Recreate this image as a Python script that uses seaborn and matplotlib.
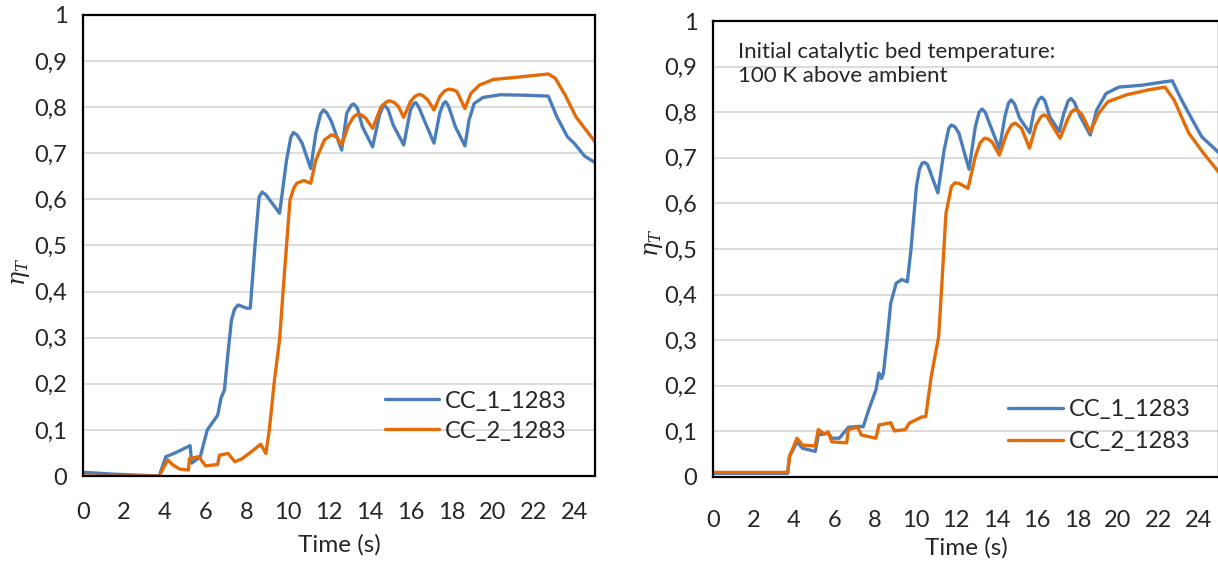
import numpy as np
import pandas as pd
import matplotlib
matplotlib.use("Agg")
import matplotlib.pyplot as plt
import seaborn as sns

# ---- data (time in s, eta_T) ----
left_cc1_t = [0, 1.5, 3.72, 4.05, 4.5, 5.23, 5.31, 5.73, 6.07, 6.58, 6.74, 6.91, 7.08, 7.25,
              7.4, 7.58, 8.0, 8.17, 8.4, 8.6, 8.75, 8.93, 9.6, 9.94, 10.15, 10.28, 10.45,
              10.7, 11.12, 11.37, 11.6, 11.74, 11.9, 12.13, 12.63, 12.88, 13.1, 13.22, 13.4,
              13.64, 14.14, 14.48, 14.65, 14.73, 14.9, 15.15, 15.66, 15.99, 16.15, 16.25,
              16.4, 16.67, 17.14, 17.42, 17.6, 17.71, 17.85, 18.18, 18.65, 18.85, 19.1,
              19.53, 20.37, 21.54, 22.72, 23.14, 23.65, 23.98, 24.49, 25.0]
left_cc1_y = [0.008, 0.004, 0.0, 0.042, 0.05, 0.066, 0.028, 0.042, 0.10, 0.132, 0.169, 0.187,
              0.266, 0.338, 0.362, 0.371, 0.364, 0.364, 0.50, 0.605, 0.616, 0.610, 0.570,
              0.685, 0.735, 0.745, 0.740, 0.722, 0.667, 0.743, 0.785, 0.794, 0.788, 0.769,
              0.707, 0.787, 0.804, 0.807, 0.798, 0.758, 0.714, 0.783, 0.802, 0.804, 0.795,
              0.761, 0.718, 0.794, 0.808, 0.810, 0.800, 0.771, 0.722, 0.787, 0.808, 0.812,
              0.802, 0.758, 0.716, 0.772, 0.808, 0.821, 0.827, 0.826, 0.824, 0.779, 0.736,
              0.722, 0.694, 0.680]

left_cc2_t = [0, 3.72, 4.14, 4.39, 4.73, 5.15, 5.2, 5.65, 5.99, 6.58, 6.66, 7.08, 7.42, 7.75,
              8.17, 8.68, 8.93, 9.1, 9.35, 9.6, 9.77, 10.11, 10.3, 10.44, 10.78, 11.12, 11.37,
              11.79, 12.13, 12.38, 12.63, 12.97, 13.2, 13.39, 13.6, 13.81, 14.14, 14.56,
              14.8, 14.98, 15.2, 15.41, 15.66, 15.99, 16.2, 16.41, 16.6, 16.83, 17.14, 17.42,
              17.65, 17.84, 18.05, 18.26, 18.65, 18.94, 19.36, 20.03, 21.21, 22.05, 22.72,
              23.06, 23.56, 24.07, 25.0]
left_cc2_y = [0.0, 0.0, 0.035, 0.024, 0.015, 0.013, 0.038, 0.042, 0.022, 0.025, 0.045, 0.049,
              0.031, 0.037, 0.051, 0.069, 0.049, 0.10, 0.208, 0.295, 0.40, 0.599, 0.625,
              0.635, 0.641, 0.635, 0.685, 0.729, 0.740, 0.736, 0.718, 0.761, 0.778, 0.785,
              0.783, 0.776, 0.754, 0.801, 0.811, 0.814, 0.810, 0.801, 0.778, 0.812, 0.823,
              0.828, 0.825, 0.816, 0.794, 0.823, 0.835, 0.839, 0.838, 0.834, 0.797, 0.830,
              0.848, 0.860, 0.865, 0.869, 0.872, 0.863, 0.825, 0.779, 0.725]

right_cc1_t = [0, 3.69, 3.78, 4.15, 4.42, 5.05, 5.2, 5.69, 5.87, 6.24, 6.69, 7.24, 7.42, 7.69,
               8.05, 8.2, 8.33, 8.42, 8.6, 8.78, 9.05, 9.33, 9.6, 9.78, 10.05, 10.2, 10.33,
               10.45, 10.6, 11.11, 11.42, 11.65, 11.78, 11.95, 12.15, 12.65, 12.96, 13.15,
               13.29, 13.45, 13.69, 14.15, 14.42, 14.6, 14.73, 14.9, 15.15, 15.65, 15.87,
               16.1, 16.24, 16.4, 16.64, 17.11, 17.33, 17.55, 17.69, 17.85, 18.15, 18.64,
               18.96, 19.42, 20.05, 21.15, 22.05, 22.69, 23.15, 23.6, 24.15, 25.0]
right_cc1_y = [0.008, 0.008, 0.045, 0.077, 0.063, 0.056, 0.092, 0.096, 0.085, 0.085, 0.109,
               0.111, 0.110, 0.147, 0.191, 0.228, 0.216, 0.228, 0.30, 0.381, 0.425, 0.433,
               0.428, 0.498, 0.637, 0.675, 0.688, 0.690, 0.685, 0.623, 0.717, 0.765, 0.772,
               0.768, 0.754, 0.675, 0.768, 0.800, 0.807, 0.800, 0.772, 0.719, 0.790, 0.820,
               0.827, 0.818, 0.787, 0.755, 0.805, 0.828, 0.833, 0.825, 0.790, 0.758, 0.797,
               0.825, 0.830, 0.822, 0.790, 0.750, 0.805, 0.841, 0.855, 0.859, 0.865, 0.869,
               0.827, 0.790, 0.746, 0.711]

right_cc2_t = [0, 3.69, 3.78, 4.15, 4.42, 5.05, 5.2, 5.51, 5.69, 5.87, 6.6, 6.69, 7.15, 7.33,
               8.05, 8.2, 8.78, 8.96, 9.51, 9.69, 10.33, 10.51, 10.78, 11.15, 11.29, 11.51,
               11.78, 11.95, 12.15, 12.6, 12.96, 13.2, 13.42, 13.6, 13.78, 14.15, 14.51, 14.75,
               14.93, 15.24, 15.64, 15.96, 16.2, 16.36, 16.5, 16.69, 17.15, 17.51, 17.7,
               17.87, 18.05, 18.24, 18.64, 19.05, 19.51, 20.42, 21.51, 22.33, 22.78, 23.51,
               24.24, 25.0]
right_cc2_y = [0.010, 0.010, 0.045, 0.085, 0.070, 0.068, 0.104, 0.094, 0.099, 0.077, 0.075,
               0.104, 0.109, 0.092, 0.085, 0.114, 0.119, 0.101, 0.104, 0.118, 0.132, 0.132,
               0.220, 0.308, 0.410, 0.578, 0.637, 0.645, 0.644, 0.633, 0.703, 0.733, 0.743,
               0.741, 0.735, 0.706, 0.753, 0.772, 0.776, 0.765, 0.721, 0.772, 0.790, 0.794,
               0.791, 0.776, 0.743, 0.783, 0.800, 0.806, 0.803, 0.794, 0.757, 0.797, 0.823,
               0.838, 0.849, 0.855, 0.827, 0.754, 0.710, 0.668]

series_names = ["CC_1_1283", "CC_2_1283"]
x_ticks = list(range(0, 25, 2))
y_ticks = [0, 0.1, 0.2, 0.3, 0.4, 0.5, 0.6, 0.7, 0.8, 0.9, 1.0]
y_tick_labels = ["0", "0,1", "0,2", "0,3", "0,4", "0,5", "0,6", "0,7", "0,8", "0,9", "1"]
note = "Initial catalytic bed temperature:\n100 K above ambient"

colors = {"CC_1_1283": "#4a7ebb", "CC_2_1283": "#e36c09"}


def make_frame(t1, y1, t2, y2):
    a = pd.DataFrame({"t": t1, "eta": y1, "series": series_names[0]})
    b = pd.DataFrame({"t": t2, "eta": y2, "series": series_names[1]})
    return pd.concat([a, b], ignore_index=True)


sns.set_theme(style="white")
plt.rcParams["font.family"] = ["Lato", "DejaVu Sans"]
plt.rcParams["mathtext.fontset"] = "dejavuserif"

fig = plt.figure(figsize=(12.18, 5.65), dpi=100)
ax1 = fig.add_axes([0.0681, 0.1575, 0.4204, 0.816])
ax2 = fig.add_axes([0.5854, 0.1558, 0.4154, 0.807])

# ax, data, x tick pad, legend anchor, legend spacing, ylabel coords, xlabel pad
panels = [
    (ax1, make_frame(left_cc1_t, left_cc1_y, left_cc2_t, left_cc2_y), 14, (0.59, 0.13), 0.38,
     (-0.100, 0.4425), 8),
    (ax2, make_frame(right_cc1_t, right_cc1_y, right_cc2_t, right_cc2_y), 19, (0.584, 0.113), 0.47,
     (-0.094, 0.513), 4),
]

for ax, df, xpad, leg_pos, leg_sp, ylc, xlp in panels:
    sns.lineplot(data=df, x="t", y="eta", hue="series", palette=colors,
                 estimator=None, sort=False, linewidth=2.4, ax=ax)
    ax.set_xlim(0, 25)
    ax.set_ylim(0, 1)
    ax.set_xticks(x_ticks)
    ax.set_yticks(y_ticks)
    ax.set_yticklabels(y_tick_labels)
    ax.grid(axis="y", color="#d9d9d9", linewidth=1.3)
    ax.set_axisbelow(True)
    for s in ax.spines.values():
        s.set_color("black")
        s.set_linewidth(1.6)
    ax.tick_params(axis="y", direction="inout", length=10.5, width=1.3,
                   color="black", labelsize=17, pad=6)
    ax.tick_params(axis="x", direction="out", length=5, width=1.3,
                   color="black", labelsize=17, pad=xpad)
    ax.set_xlabel("Time (s)", fontsize=17.5, labelpad=xlp)
    ax.set_ylabel(r"$\eta_T$", fontsize=17)
    ax.yaxis.set_label_coords(*ylc)
    ax.legend(loc="center left", bbox_to_anchor=leg_pos, frameon=False,
              fontsize=17, handlelength=2.3, handletextpad=0.25,
              borderpad=0, borderaxespad=0, labelspacing=leg_sp)

ax2.text(0.049, 0.905, note, transform=ax2.transAxes, fontsize=16,
         va="center", ha="left", linespacing=1.25)

fig.savefig("out.png", dpi=100)
